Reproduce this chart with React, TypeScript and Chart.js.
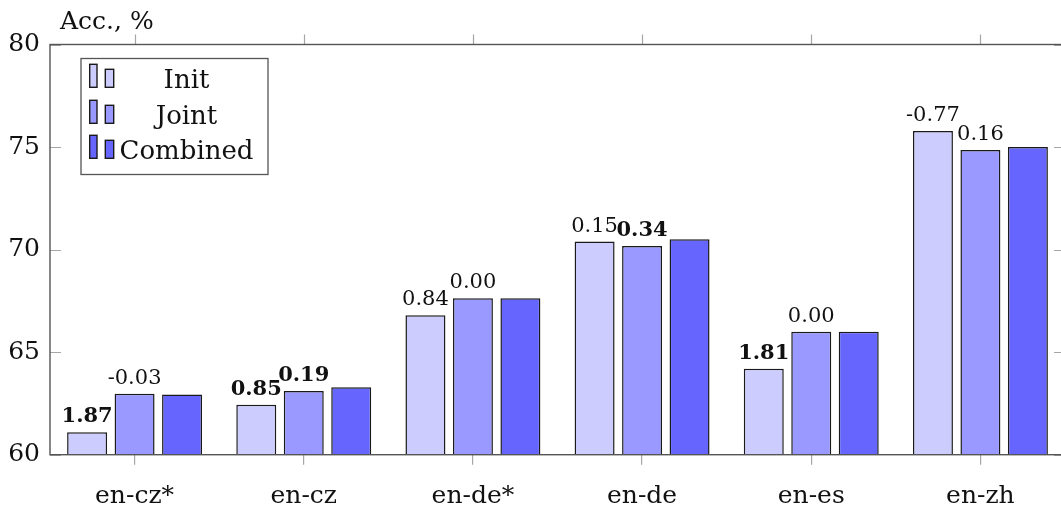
import React, { useEffect, useRef } from "react";
import { Chart, registerables } from "chart.js";

Chart.register(...registerables);

const categories = ["en-cz*", "en-cz", "en-de*", "en-de", "en-es", "en-zh"];
const seriesNames = ["Init", "Joint", "Combined"];
const initValues = [61.09, 62.44, 66.8, 70.39, 64.19, 75.78];
const jointValues = [62.97, 63.11, 67.63, 70.18, 66.0, 74.86];
const combinedValues = [62.94, 63.29, 67.63, 70.5, 66.0, 75.0];
const initLabels = ["1.87", "0.85", "0.84", "0.15", "1.81", "-0.77"];
const initBold = [true, true, false, false, true, false];
const jointLabels = ["-0.03", "0.19", "0.00", "0.34", "0.00", "0.16"];
const jointBold = [false, true, false, true, false, false];
const yTicks = [60, 65, 70, 75, 80];
const yTitle = "Acc., %";

const colors = ["#ccccff", "#9999ff", "#6666ff"];
const FONT = "'DejaVu Serif', serif";

const CANVAS_W = 1080;
const CANVAS_H = 508;

const framePlugin = {
  id: "frame",
  afterDraw(chart: any) {
    const { ctx, chartArea } = chart;
    const { left, right, top, bottom } = chartArea;
    const xs = chart.scales.x;
    const ys = chart.scales.y;
    ctx.save();
    ctx.strokeStyle = "#a6a6a6";
    ctx.lineWidth = 1.2;
    ctx.beginPath();
    yTicks.forEach((v) => {
      const y = Math.round(ys.getPixelForValue(v)) + 0.5;
      ctx.moveTo(left, y);
      ctx.lineTo(left + 11, y);
      ctx.moveTo(right, y);
      ctx.lineTo(right - 11, y);
    });
    categories.forEach((_, i) => {
      const x = Math.round(xs.getPixelForValue(i)) + 0.5;
      ctx.moveTo(x, top);
      ctx.lineTo(x, top - 10);
    });
    ctx.stroke();
    ctx.strokeStyle = "#555";
    ctx.lineWidth = 1.4;
    ctx.strokeRect(left, top, right - left, bottom - top);

    ctx.fillStyle = "#111";
    ctx.textAlign = "center";
    ctx.textBaseline = "alphabetic";
    const labelSets = [
      { labels: initLabels, bold: initBold },
      { labels: jointLabels, bold: jointBold },
    ];
    labelSets.forEach((set, di) => {
      const meta = chart.getDatasetMeta(di);
      meta.data.forEach((el: any, i: number) => {
        ctx.font = (set.bold[i] ? "bold " : "") + "21px " + FONT;
        ctx.fillText(set.labels[i], el.x, el.y - 10);
      });
    });

    ctx.font = "25px " + FONT;
    ctx.textAlign = "left";
    ctx.fillText(yTitle, 60, 29);

    const bx = 81, by = 58.5, bw = 187, bh = 116;
    ctx.fillStyle = "#fff";
    ctx.fillRect(bx, by, bw, bh);
    ctx.strokeStyle = "#555";
    ctx.lineWidth = 1.3;
    ctx.strokeRect(bx, by, bw, bh);
    const rowBottoms = [87.3, 123.3, 158.3];
    seriesNames.forEach((name, i) => {
      const b = rowBottoms[i];
      ctx.fillStyle = colors[i];
      ctx.strokeStyle = "#1a1a1a";
      ctx.lineWidth = 1.4;
      ctx.fillRect(89.7, b - 23, 7.3, 23);
      ctx.strokeRect(89.7, b - 23, 7.3, 23);
      ctx.fillRect(105.3, b - 18, 8.4, 18);
      ctx.strokeRect(105.3, b - 18, 8.4, 18);
      ctx.fillStyle = "#111";
      ctx.font = "26px " + FONT;
      ctx.textAlign = "center";
      ctx.fillText(name, 186.5, b + 1);
    });
    ctx.restore();
  },
};

export default function App() {
  const ref = useRef<HTMLCanvasElement | null>(null);
  useEffect(() => {
    if (!ref.current) return;
    const valueSets = [initValues, jointValues, combinedValues];
    const chart = new Chart(ref.current, {
      type: "bar",
      data: {
        labels: categories,
        datasets: seriesNames.map((name, i) => ({
          label: name,
          data: valueSets[i],
          backgroundColor: colors[i],
          borderColor: "#1a1a1a",
          borderWidth: 1.5,
          borderSkipped: "start",
          categoryPercentage: 0.842,
          barPercentage: 0.842,
        })),
      },
      options: {
        responsive: false,
        animation: false,
        devicePixelRatio: 1,
        layout: { padding: { top: 44.5, right: CANVAS_W - 1065, left: 0, bottom: 0 } },
        plugins: { legend: { display: false }, tooltip: { enabled: false }, title: { display: false } },
        scales: {
          x: {
            type: "category",
            grid: {
              display: true,
              drawOnChartArea: false,
              drawTicks: true,
              tickLength: 10,
              offset: false,
              color: "#a6a6a6",
              lineWidth: 1.2,
            },
            border: { display: false },
            ticks: { color: "#111", font: { family: FONT, size: 25 }, padding: 17 },
            afterFit: (scale: any) => {
              scale.height = 53.3;
            },
          },
          y: {
            min: 60,
            max: 80,
            grid: { display: true, drawOnChartArea: false, drawTicks: false },
            border: { display: false },
            ticks: {
              stepSize: 5,
              color: "#111",
              font: { family: FONT, size: 25 },
              padding: 10,
            },
            afterFit: (scale: any) => {
              scale.width = 50;
            },
          },
        },
      },
      plugins: [framePlugin],
    });
    return () => chart.destroy();
  }, []);
  return (
    <div
      style={{
        position: "fixed",
        left: 0,
        top: 0,
        width: 1061,
        height: 508,
        overflow: "hidden",
        background: "#fff",
      }}
    >
      <canvas
        ref={ref}
        width={CANVAS_W}
        height={CANVAS_H}
        style={{ width: CANVAS_W, height: CANVAS_H, display: "block" }}
      />
    </div>
  );
}
